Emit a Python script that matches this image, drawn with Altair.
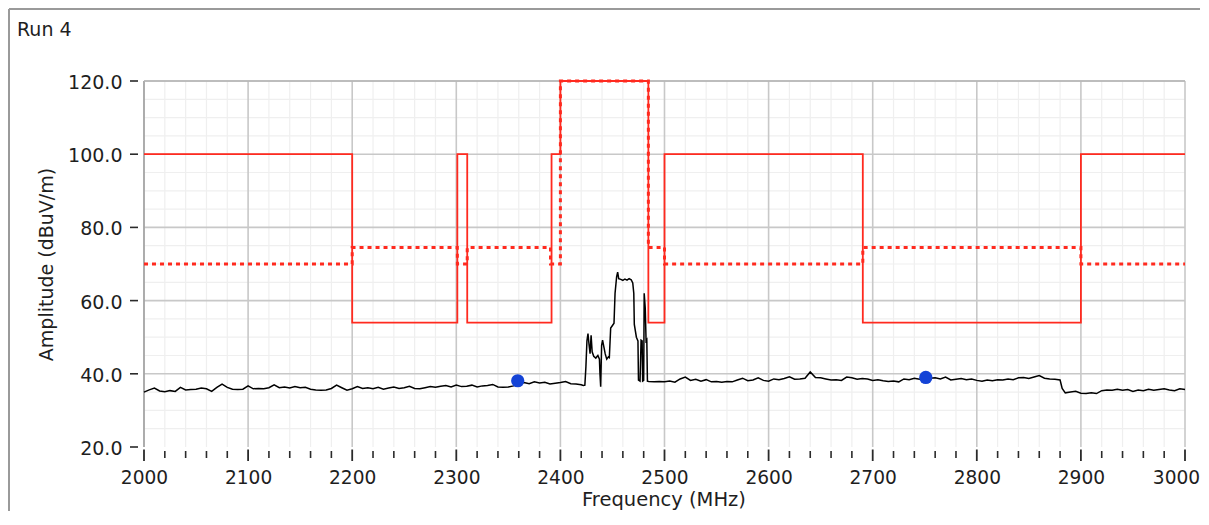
import altair as alt
import pandas as pd

# ---------------- data ----------------
# measured trace (black), sweep in pieces
base1_freq = list(range(2000, 2425, 5))
base1_amp = [
    35.0, 35.6, 36.1, 35.3, 35.1, 35.4, 35.2, 36.3, 35.6, 35.7,
    35.8, 36.1, 35.9, 35.2, 36.3, 37.2, 36.3, 35.8, 35.7, 35.8,
    36.7, 35.9, 36.0, 35.9, 36.2, 37.0, 36.2, 36.4, 36.1, 36.5,
    36.2, 36.3, 35.8, 35.6, 35.5, 35.6, 36.0, 36.9, 36.2, 35.5,
    35.9, 36.5, 36.0, 36.2, 35.9, 36.3, 35.8, 36.1, 36.4, 36.0,
    36.2, 36.6, 36.0, 35.9, 36.2, 36.5, 36.3, 36.6, 36.8, 36.4,
    36.9, 36.5, 36.6, 36.9, 36.4, 36.7, 36.8, 37.1, 36.4, 36.3,
    36.4, 36.7, 37.2, 37.6, 37.3, 37.8, 37.5, 37.7, 37.2, 37.4,
    37.6, 37.9, 37.3, 37.2, 37.0,
]
peak_freq = [2422, 2423.5, 2424.5, 2425.5, 2426.5, 2427.5, 2428.5, 2429.5, 2430.5, 2432,
             2434, 2436, 2437.5, 2438, 2438.7, 2439.6, 2440.5, 2442, 2443, 2444.5,
             2446, 2447, 2448.3, 2450, 2451.5, 2452.5, 2454, 2455, 2456, 2458,
             2460, 2462, 2464, 2466, 2468, 2469.5, 2470.5, 2471, 2473, 2474.5,
             2475, 2476.5, 2477.5, 2478.5, 2479, 2480, 2480.5, 2481.5, 2482.3, 2483,
             2483.6]
peak_amp = [36.8, 36.9, 41.9, 49.0, 51.0, 48.0, 45.5, 50.5, 46.0, 44.8,
            44.3, 45.0, 44.0, 40.0, 36.5, 47.8, 49.2, 47.0, 45.5, 44.0,
            44.6, 44.4, 52.5, 53.2, 53.8, 62.0, 66.5, 67.8, 66.0, 65.8,
            65.5, 65.9, 65.6, 66.0, 65.7, 64.8, 62.0, 53.5, 50.0, 49.0,
            38.3, 38.0, 49.2, 49.0, 38.0, 38.2, 62.0, 58.0, 49.0, 49.3,
            38.0]
base2_freq = list(range(2485, 2885, 5))
base2_amp = [
    37.9, 37.8, 37.9, 37.8, 38.0, 37.7, 38.6, 39.1, 38.2, 38.5,
    38.0, 38.4, 37.8, 37.9, 37.7, 37.9, 37.8, 38.3, 38.8, 38.1,
    38.3, 38.9, 38.2, 38.0, 38.6, 38.4, 38.7, 39.2, 38.5, 38.6,
    38.8, 40.5, 39.0, 38.9, 38.6, 38.3, 38.4, 38.2, 39.1, 38.9,
    38.5, 38.7, 38.6, 38.2, 38.4, 38.1, 37.9, 38.0, 37.8, 38.6,
    38.4, 38.8, 38.5, 38.9, 38.8, 38.9, 38.6, 39.1, 38.3, 38.5,
    38.7, 38.4, 38.6, 38.2, 38.0, 38.3, 38.1, 38.4, 38.3, 38.6,
    38.4, 38.9, 39.0, 38.7, 39.1, 39.5, 38.8, 38.6, 38.5, 38.3,
]
tail_freq = [2882] + list(range(2885, 3005, 5))
tail_amp = [36.0,
            34.8, 35.0, 35.2, 34.7, 34.6, 34.8, 34.6, 35.4, 35.6, 35.5,
            35.8, 35.5, 35.7, 35.2, 35.6, 35.4, 35.8, 35.5, 35.7, 35.9,
            35.6, 35.4, 35.9, 35.7]

# limit lines (red)
lim1_freq = [2000, 2200, 2200, 2301, 2301, 2310.5, 2310.5, 2391.5, 2391.5, 2400,
             2400, 2484.5, 2484.5, 2500, 2500, 2690.5, 2690.5, 2900, 2900, 3000]
lim1_amp = [100, 100, 54, 54, 100, 100, 54, 54, 100, 100,
            120, 120, 54, 54, 100, 100, 54, 54, 100, 100]
lim2_freq = [2000, 2200, 2200, 2301, 2301, 2310.5, 2310.5, 2390.5, 2390.5, 2400,
             2400, 2484.5, 2484.5, 2500, 2500, 2690.5, 2690.5, 2900, 2900, 3000]
lim2_amp = [70, 70, 74.5, 74.5, 70, 70, 74.5, 74.5, 70, 70,
            120, 120, 74.5, 74.5, 70, 70, 74.5, 74.5, 70, 70]

# markers (blue)
marker_freq = [2359, 2751]
marker_amp = [38.1, 39.0]

# axis ticks / grid
x_major = [2000, 2100, 2200, 2300, 2400, 2500, 2600, 2700, 2800, 2900, 3000]
x_minor = [f for f in range(2020, 3000, 20) if f % 100 != 0]
y_major = [20, 40, 60, 80, 100, 120]
y_minor = [25, 30, 35, 45, 50, 55, 65, 70, 75, 85, 90, 95, 105, 110, 115]

# ---------------- chart ----------------
W, H = 1041, 366
PAD_L, PAD_T, PAD_R, PAD_B = 136, 73, 15, 64
FONT = "DejaVu Sans"
TXT = "#1e1e1e"
RED = "#ff2a1f"

xs = alt.Scale(domain=[2000, 3000], nice=False, zero=False)
ys = alt.Scale(domain=[20, 120], nice=False, zero=False)

x_axis = alt.Axis(values=x_major, format="d", domain=False, ticks=False, tickSize=0, grid=False,
                  labelPadding=21, labelFont=FONT, labelFontSize=18.6, labelColor=TXT,
                  labelOffset={"condition": {"test": "datum.value == 3000", "value": -9}, "value": 0},
                  labelFlush=False, labelOverlap=False,
                  title="Frequency (MHz)", titleFont=FONT, titleFontSize=19.5, titleFontWeight="normal",
                  titleColor=TXT, titleX=W / 2 - 1, titleY=58, titleAlign="center",
                  titleBaseline="alphabetic")
y_axis = alt.Axis(values=y_major, format=".1f", domain=False, ticks=False, tickSize=0, grid=False,
                  labelPadding=22, labelOffset=1.5, labelFont=FONT, labelFontSize=19, labelColor=TXT,
                  labelFlush=False, labelOverlap=False,
                  title="Amplitude (dBuV/m)", titleFont=FONT, titleFontSize=19, titleFontWeight="normal",
                  titleColor=TXT, titleAngle=270, titleX=-92, titleY=H / 2, titleAlign="center",
                  titleBaseline="alphabetic")

X = alt.X("freq:Q", scale=xs, axis=x_axis)
Y = alt.Y("amp:Q", scale=ys, axis=y_axis)

trace_df = pd.DataFrame({
    "freq": base1_freq + peak_freq + base2_freq + tail_freq,
    "amp": base1_amp + peak_amp + base2_amp + tail_amp,
})
trace_df["i"] = range(len(trace_df))
lim1_df = pd.DataFrame({"freq": lim1_freq, "amp": lim1_amp, "i": range(len(lim1_freq))})
lim2_df = pd.DataFrame({"freq": lim2_freq, "amp": lim2_amp, "i": range(len(lim2_freq))})
mark_df = pd.DataFrame({"freq": marker_freq, "amp": marker_amp})
xmaj_df = pd.DataFrame({"freq": x_major})
xmaj_grid_df = pd.DataFrame({"freq": x_major[1:]})
xmin_df = pd.DataFrame({"freq": x_minor})
ymaj_df = pd.DataFrame({"amp": y_major})
ymaj_grid_df = pd.DataFrame({"amp": y_major[1:]})
ymin_df = pd.DataFrame({"amp": y_minor})
one_df = pd.DataFrame({"k": [0]})

minor_vx = alt.Chart(xmin_df).mark_rule(color="#efefef", strokeWidth=1.2).encode(
    x=X, y=alt.value(0), y2=alt.value(H))
minor_hy = alt.Chart(ymin_df).mark_rule(color="#efefef", strokeWidth=1.2).encode(
    y=Y, x=alt.value(0), x2=alt.value(W))
major_vx = alt.Chart(xmaj_grid_df).mark_rule(color="#c8c8c8", strokeWidth=1.6).encode(
    x=X, y=alt.value(0), y2=alt.value(H))
major_hy = alt.Chart(ymaj_grid_df).mark_rule(color="#c8c8c8", strokeWidth=1.6).encode(
    y=Y, x=alt.value(0), x2=alt.value(W))
yaxis_line = alt.Chart(one_df).mark_rule(color="#a4a4a4", strokeWidth=1.8).encode(
    x=alt.value(0), y=alt.value(0), y2=alt.value(H))
top_line = alt.Chart(one_df).mark_rule(color="#b4b4b4", strokeWidth=1.6).encode(
    x=alt.value(0), x2=alt.value(W), y=alt.value(0))

xtick_major = alt.Chart(xmaj_df).mark_rule(color="#2a2a2a", strokeWidth=1.8).encode(
    x=X, y=alt.value(H + 2.5), y2=alt.value(H + 14))
xtick_minor = alt.Chart(xmin_df).mark_rule(color="#2a2a2a", strokeWidth=1.6).encode(
    x=X, y=alt.value(H + 4), y2=alt.value(H + 11))
ytick = alt.Chart(ymaj_df).mark_rule(color="#2a2a2a", strokeWidth=1.6).encode(
    y=Y, x=alt.value(-14), x2=alt.value(-6))

lim2 = alt.Chart(lim2_df).mark_line(color=RED, strokeWidth=3, strokeDash=[4, 4]).encode(
    x=X, y=Y, order="i:Q")
lim1 = alt.Chart(lim1_df).mark_line(color=RED, strokeWidth=1.8).encode(
    x=X, y=Y, order="i:Q")
trace = alt.Chart(trace_df).mark_line(color="#000000", strokeWidth=1.5).encode(
    x=X, y=Y, order="i:Q")
markers = alt.Chart(mark_df).mark_circle(color="#1443d6", opacity=1, size=175).encode(x=X, y=Y)

frame_left = alt.Chart(one_df).mark_rule(color="#9a9a9a", strokeWidth=2).encode(
    x=alt.value(-135), y=alt.value(-72), y2=alt.value(H + PAD_B + 5))
frame_top = alt.Chart(one_df).mark_rule(color="#9a9a9a", strokeWidth=2).encode(
    x=alt.value(-135), x2=alt.value(W + PAD_R + 5), y=alt.value(-72))
title = alt.Chart(one_df).mark_text(text="Run 4", font=FONT, fontSize=19, color=TXT,
                                    align="left", baseline="alphabetic").encode(
    x=alt.value(-127), y=alt.value(-45))

chart = alt.layer(
    minor_vx, minor_hy, major_vx, major_hy, yaxis_line, top_line,
    xtick_major, xtick_minor, ytick,
    lim2, lim1, trace, markers,
    frame_left, frame_top, title,
).properties(
    width=W, height=H,
    padding={"left": PAD_L, "top": PAD_T, "right": PAD_R, "bottom": PAD_B},
    autosize=alt.AutoSizeParams(type="none"),
    background="white",
).configure_view(stroke=None)

chart.save("out.html", embed_options={"renderer": "svg", "actions": False})
